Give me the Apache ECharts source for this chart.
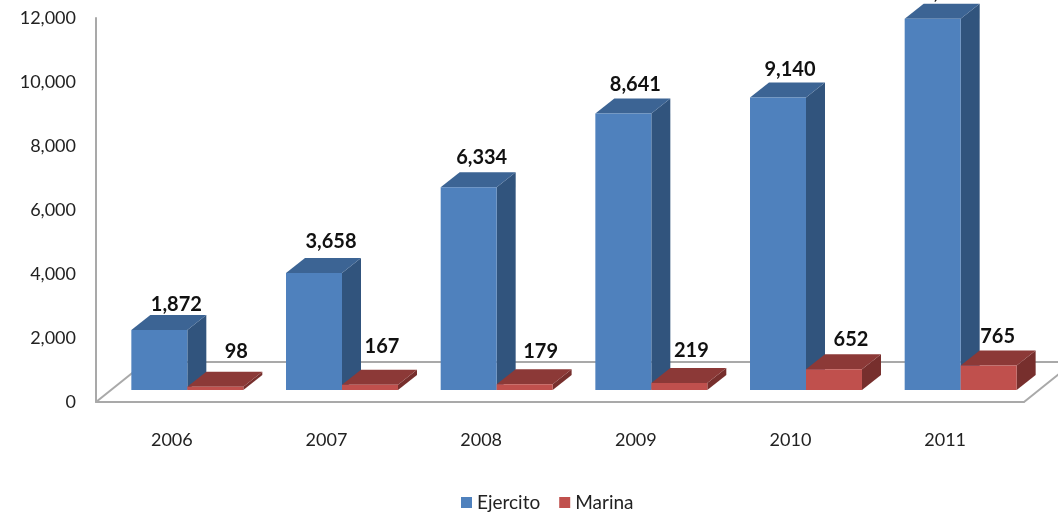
<!DOCTYPE html>
<html>
<head>
<meta charset="utf-8">
<title>Ejercito / Marina</title>
<script src="https://cdn.jsdelivr.net/npm/echarts@6/dist/echarts.min.js"></script>
<style>
    html, body { margin: 0; padding: 0; background: #fff; }
    #chart { width: 1058px; height: 519px; }
</style>
</head>
<body>
<div id="chart"></div>
<script>
var years = ['2006', '2007', '2008', '2009', '2010', '2011'];
var ejercito = [1872, 3658, 6334, 8641, 9140, 11600];
var marina = [98, 167, 179, 219, 652, 765];

// hand placed labels in the original, [dx, dy] from the bar's back top edge
var ejercitoLabelShift = [[17, -11], [17, -16], [13, -15], [12, -14], [12, -13], [9, -11]];
var marinaLabelShift = [[21, -20], [12, -23], [16, -18], [12, -17], [17, -15], [9, -14]];

var FONT = 'Lato, "Open Sans", sans-serif';
var AXIS_GREY = '#a9a9a9';

// floor depth, bar depth and where the bars stand on the floor
var floorDx = 50, floorDy = -40;
var barDx = 19, barDy = -15;
var standDx = 14, standDy = -12;

function poly(points, color) {
    return { type: 'polygon', shape: { points: points }, style: { fill: color } };
}

function bar3d(shifts, barOffset, front, top, side) {
    return function (params, api) {
        var i = api.value(0);
        var base = api.coord([i, 0]);
        var head = api.coord([i, api.value(1)]);
        var w = api.size([1, 0])[0] * 0.362;
        var x0 = base[0] + standDx + barOffset * w - w;
        var x1 = x0 + w;
        var y0 = base[1] + standDy;
        var y1 = head[1] + standDy;
        var shift = shifts[i];
        return {
            type: 'group',
            children: [
                poly([[x1, y0], [x1 + barDx, y0 + barDy], [x1 + barDx, y1 + barDy], [x1, y1]], side),
                poly([[x0, y1], [x1, y1], [x1 + barDx, y1 + barDy], [x0 + barDx, y1 + barDy]], top),
                poly([[x0, y0], [x1, y0], [x1, y1], [x0, y1]], front),
                {
                    type: 'text',
                    x: (x0 + x1) / 2 + shift[0],
                    y: y1 + barDy + shift[1],
                    style: {
                        text: api.value(1).toLocaleString('en-US'),
                        font: 'bold 20px ' + FONT,
                        fill: '#111',
                        align: 'center',
                        verticalAlign: 'middle'
                    }
                }
            ]
        };
    };
}

function floorLines(params, api) {
    var box = params.coordSys;
    var left = [box.x, box.y + box.height];
    var right = [box.x + box.width, box.y + box.height];
    var lineStyle = { stroke: AXIS_GREY, lineWidth: 2 };
    function seg(a, b) {
        return { type: 'line', shape: { x1: a[0], y1: a[1], x2: b[0], y2: b[1] }, style: lineStyle };
    }
    var backLeft = [left[0] + floorDx, left[1] + floorDy];
    var backRight = [right[0] + floorDx, right[1] + floorDy];
    return {
        type: 'group',
        children: [seg(left, backLeft), seg(backLeft, backRight), seg(right, backRight)]
    };
}

var myChart = echarts.init(document.getElementById('chart'));
var option = {
    animation: false,
    backgroundColor: '#fff',
    textStyle: { fontFamily: FONT },
    grid: { left: 96, right: 34, top: 18, bottom: 117 },
    legend: {
        left: 456,
        top: 488,
        data: ['Ejercito', 'Marina'],
        icon: 'rect',
        itemWidth: 11,
        itemHeight: 11,
        itemGap: 19,
        textStyle: { fontFamily: FONT, fontSize: 19, color: '#222' }
    },
    xAxis: {
        type: 'category',
        data: years,
        axisTick: { show: false },
        axisLine: { lineStyle: { color: AXIS_GREY, width: 2 } },
        axisLabel: { fontFamily: FONT, fontSize: 18, color: '#222', margin: 29, padding: [0, 3, 0, 0] }
    },
    yAxis: {
        type: 'value',
        min: 0,
        max: 12000,
        interval: 2000,
        splitLine: { show: false },
        axisTick: { show: false },
        axisLine: { show: true, lineStyle: { color: AXIS_GREY, width: 2 } },
        axisLabel: {
            fontFamily: FONT,
            fontSize: 18,
            color: '#222',
            margin: 20,
            padding: [3, 0, 0, 0],
            formatter: function (v) { return v.toLocaleString('en-US'); }
        }
    },
    series: [
        {
            name: 'floor',
            type: 'custom',
            silent: true,
            clip: false,
            z: 1,
            renderItem: floorLines,
            data: [[0, 0]]
        },
        {
            name: 'Ejercito',
            type: 'custom',
            clip: false,
            z: 2,
            itemStyle: { color: '#4f81bd' },
            renderItem: bar3d(ejercitoLabelShift, 0, '#4f81bd', '#3c6494', '#31547d'),
            data: ejercito.map(function (v, i) { return [i, v]; })
        },
        {
            name: 'Marina',
            type: 'custom',
            clip: false,
            z: 3,
            itemStyle: { color: '#c0504d' },
            renderItem: bar3d(marinaLabelShift, 1, '#c0504d', '#8c3937', '#772f2d'),
            data: marina.map(function (v, i) { return [i, v]; })
        }
    ]
};
option && myChart.setOption(option);
</script>
</body>
</html>
